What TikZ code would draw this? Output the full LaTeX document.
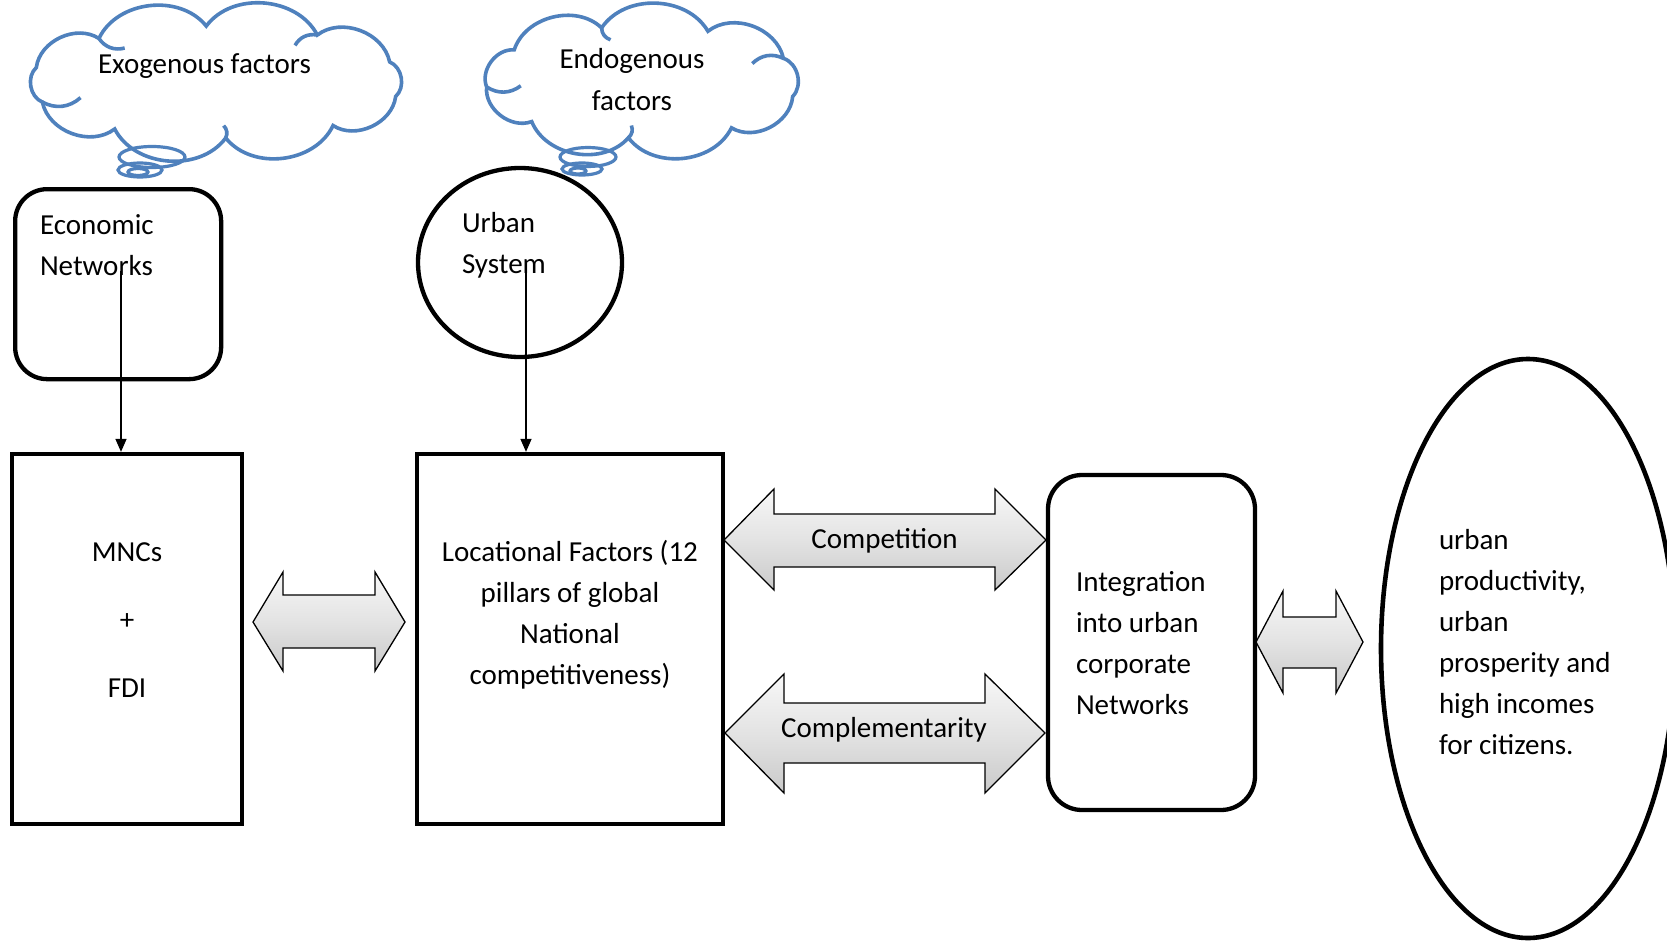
\documentclass[tikz,border=0pt]{standalone}
\usepackage{fontspec}
\setmainfont{Carlito}
\usetikzlibrary{shapes.geometric,arrows.meta,calc}
\definecolor{cloudblue}{RGB}{79,129,189}
\begin{document}
\begin{tikzpicture}[x=1pt,y=-1pt,
  txt/.style={font=\fontsize{29}{41}\selectfont, inner sep=0pt, outer sep=0pt},
  box/.style={draw, line width=4.3pt, inner sep=0pt},
  blk/.style={draw=black, line width=1.3pt, line join=miter, top color=gray!6, bottom color=gray!42, middle color=gray!22},
  conn/.style={draw, line width=1.5pt, -{Triangle[length=13pt,width=11pt]}},
  cloudline/.style={draw=cloudblue, line width=3.6pt, fill=white},
  bubble/.style={draw=cloudblue, line width=3.2pt},
  stub/.style={draw=cloudblue, line width=3.6pt},
]
\path[use as bounding box, fill=white] (0,0) rectangle (1667,942);

% ---------- cloud 1 ----------
\draw[cloudline] ([shift={(216,82)}]15:186 and 56)
  \foreach \i [evaluate=\i as \a using 15+\i*36] in {1,...,10} { to[bend left=58] ([shift={(216,82)}]\a:186 and 56) } -- cycle;
\foreach \a in {87,159,231,303} {
  \draw[stub] ([shift={(216,82)}]\a:186 and 56) to[bend right=35] ($([shift={(216,82)}]\a:186 and 56)!0.22!(216,82)$);
}
\draw[bubble] (152,157) ellipse (33 and 10.5);
\draw[bubble] (140,170) ellipse (22 and 7);
\draw[bubble] (138,172) ellipse (10 and 3.5);
\node[txt, anchor=base] (exo) at (204.5,74) {Exogenous factors};

% ---------- cloud 2 ----------
\draw[cloudline] ([shift={(642,82)}]15:156 and 56)
  \foreach \i [evaluate=\i as \a using 15+\i*40] in {1,...,9} { to[bend left=58] ([shift={(642,82)}]\a:156 and 56) } -- cycle;
\foreach \a in {95,175,255,335} {
  \draw[stub] ([shift={(642,82)}]\a:156 and 56) to[bend right=35] ($([shift={(642,82)}]\a:156 and 56)!0.22!(642,82)$);
}
\draw[bubble] (588,157) ellipse (28 and 9.5);
\draw[bubble] (582,169) ellipse (20 and 6);
\draw[bubble] (578,171) ellipse (8 and 3);
\node[txt, anchor=base, align=center] (endo) at (632,110) {Endogenous\\factors};

% ---------- top shapes ----------
\node[box, rounded corners=32pt, minimum width=206, minimum height=190, anchor=north west] (econ) at (13,187) {};
\node[txt, anchor=base west, align=left] (econT) at (40,275) {Economic\\Networks};

\node[box, ellipse, minimum width=204, minimum height=189] (urban) at (520,262.5) {};
\node[txt, anchor=base west, align=left] (urbanT) at (462,273) {Urban\\System};

% ---------- bottom boxes ----------
\node[box, minimum width=230, minimum height=370] (mnc) at (127,639) {};
\node[txt, anchor=base] (mncA) at (127,561) {MNCs};
\node[txt, anchor=base] (mncB) at (127,629) {+};
\node[txt, anchor=base] (mncC) at (127,697) {FDI};

\node[box, minimum width=306, minimum height=370] (loc) at (570,639) {};
\node[txt, anchor=base, align=center] (locT) at (570,684) {Locational Factors (12\\pillars of global\\National\\competitiveness)};

\node[box, rounded corners=34pt, minimum width=207, minimum height=335] (integ) at (1151.5,642.5) {};
\node[txt, anchor=base west, align=left] (integT) at (1076,714) {Integration\\into urban\\corporate\\Networks};

\node[draw, line width=4.6pt, ellipse, minimum width=294, minimum height=579] (out) at (1528,648.5) {};
\node[txt, anchor=base west, align=left] (outT) at (1439,754) {urban\\productivity,\\urban\\prosperity and\\high incomes\\for citizens.};

% ---------- block double arrows ----------
\draw[blk] (253,622) -- (283,572) -- (283,595) -- (375,595) -- (375,572) -- (405,622) -- (375,671) -- (375,648) -- (283,648) -- (283,671) -- cycle;

\draw[blk] (724,540) -- (774,489) -- (774,514) -- (995,514) -- (995,489) -- (1046,540) -- (995,590) -- (995,567) -- (774,567) -- (774,590) -- cycle;
\node[txt, anchor=base] (compet) at (884.5,548) {Competition};

\draw[blk] (725,733) -- (784,674) -- (784,703) -- (985,703) -- (985,674) -- (1045,733) -- (985,793) -- (985,763) -- (784,763) -- (784,793) -- cycle;
\node[txt, anchor=base] (compl) at (884,737) {Complementarity};

\draw[blk] (1256,642) -- (1283,591) -- (1283,617) -- (1336,617) -- (1336,591) -- (1363,642) -- (1336,693) -- (1336,668) -- (1283,668) -- (1283,693) -- cycle;

% ---------- connectors ----------
\coordinate (econS) at (121,271);
\coordinate (urbanS) at (526,271);
\draw[conn] (econS) -- (econS |- mnc.north);
\draw[conn] (urbanS) -- (urbanS |- loc.north);
\end{tikzpicture}
\end{document}
